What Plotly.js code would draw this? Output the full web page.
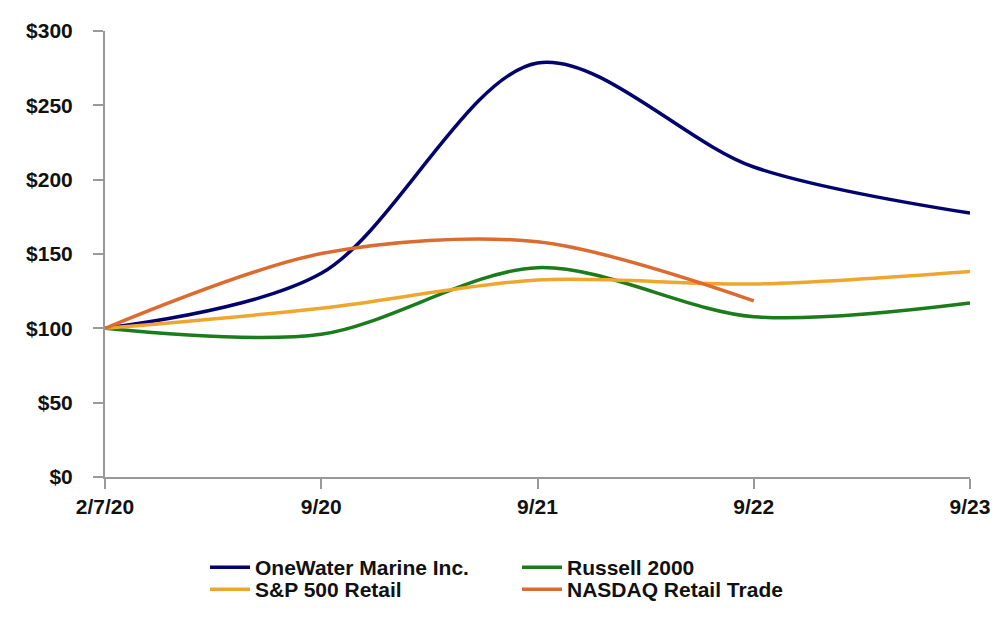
<!DOCTYPE html>
<html>
<head>
<meta charset="utf-8">
<script src="https://cdn.plot.ly/plotly-3.0.1.min.js"></script>
<style>html,body{margin:0;padding:0;background:#fff;}#chart{width:1000px;height:640px;}</style>
</head>
<body>
<div id="chart"></div>
<script>
const periods = ["2/7/20", "9/20", "9/21", "9/22", "9/23"];
const oneWater = [100, 137, 278.5, 208.5, 177.5];
const russell2000 = [100, 96, 140.8, 107.8, 117];
const sp500Retail = [100, 113.5, 132.5, 129.8, 138.3];
const nasdaqRetail = [100, 150.3, 158.2, 118.5];
const yTicks = [0, 50, 100, 150, 200, 250, 300];
const yTickText = yTicks.map(v => "$" + v);

const fam = "Liberation Sans, Arial, sans-serif";
const boldFont = (s) => ({family: fam, size: s, color: "#111", weight: "bold"});
const SMOOTH = 0.9;
function tr(name, y, color, legend) {
  return {type: "scatter", mode: "lines", name: name, x: periods.slice(0, y.length), y: y,
    legend: legend,
    line: {color: color, width: 3.5, shape: "spline", smoothing: SMOOTH}, hoverinfo: "skip"};
}
const data = [
  tr("OneWater Marine Inc.", oneWater, "#03036e", "legend"),
  tr("Russell 2000", russell2000, "#1a7c1a", "legend"),
  tr("S&P 500 Retail", sp500Retail, "#eea62c", "legend2"),
  tr("NASDAQ Retail Trade", nasdaqRetail, "#dc6b30", "legend2")
];
const legendBase = {orientation: "h", xref: "container", yref: "container", x: 0.205, xanchor: "left",
  yanchor: "middle", entrywidth: 257, entrywidthmode: "pixels", itemwidth: 40,
  font: boldFont(21), bgcolor: "rgba(0,0,0,0)"};
const layout = {
  width: 1000, height: 640,
  margin: {l: 105, r: 30, t: 31, b: 163},
  paper_bgcolor: "#fff", plot_bgcolor: "#fff",
  font: {family: fam, size: 18, color: "#111"},
  showlegend: true,
  xaxis: {type: "category", range: [0, 4], showgrid: false, zeroline: false,
    showline: true, linecolor: "#999", linewidth: 2, ticks: "outside", ticklen: 10,
    tickcolor: "#999", tickwidth: 2, tickfont: boldFont(21), fixedrange: true},
  yaxis: {range: [0, 300], tickmode: "array", tickvals: yTicks, ticktext: yTickText,
    showgrid: false, zeroline: false, ticklabelstandoff: 16,
    showline: true, linecolor: "#999", linewidth: 2, ticks: "outside", ticklen: 10,
    tickcolor: "#999", tickwidth: 2, tickfont: boldFont(21), fixedrange: true},
  legend: Object.assign({}, legendBase, {y: 1 - 567.5 / 640}),
  legend2: Object.assign({}, legendBase, {y: 1 - 589.5 / 640})
};
Plotly.newPlot("chart", data, layout, {displayModeBar: false, staticPlot: true});
</script>
</body>
</html>
